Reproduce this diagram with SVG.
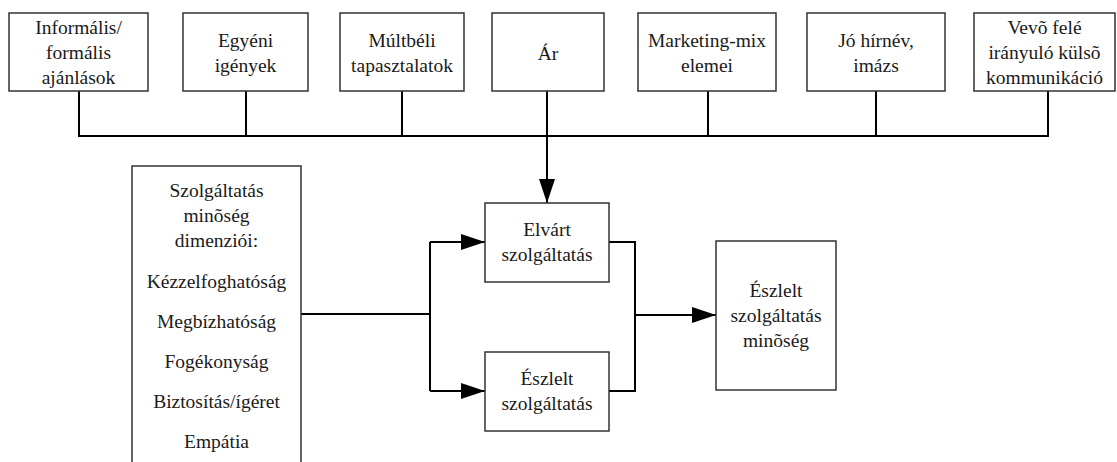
<svg xmlns="http://www.w3.org/2000/svg" width="1117" height="462" viewBox="0 0 1117 462">
<defs>
<style>
.box{fill:#fff;stroke:#333;stroke-width:1.5}
.t{font-family:"Liberation Serif","Times New Roman",serif;font-size:19.5px;fill:#1a1a1a;text-anchor:middle}
.c{fill:none;stroke:#000;stroke-width:2}
</style>
<marker id="ah" markerWidth="24" markerHeight="16" refX="24" refY="8" orient="auto" markerUnits="userSpaceOnUse">
<path d="M0,0 L24,8 L0,16 Z" fill="#000"/>
</marker>
</defs>
<rect width="1117" height="462" fill="#fff"/>
<g id="connectors">
<path class="c" d="M79,91 V136 H1048 V91"/>
<path class="c" d="M246,91 V136"/>
<path class="c" d="M402,91 V136"/>
<path class="c" d="M708,91 V136"/>
<path class="c" d="M876,91 V136"/>
<path class="c" d="M547,91 V136"/>
<path class="c" d="M547,136 V203" marker-end="url(#ah)"/>
<path class="c" d="M301,314 H430"/>
<path class="c" d="M430,242 V391"/>
<path class="c" d="M430,242 H485" marker-end="url(#ah)"/>
<path class="c" d="M430,391 H485" marker-end="url(#ah)"/>
<path class="c" d="M609,242 H635 V391 H609"/>
<path class="c" d="M635,315 H716" marker-end="url(#ah)"/>
</g>
<g id="n1"><rect class="box" x="9" y="13" width="139" height="78"/>
<text class="t" x="78.5" y="34">Informális/</text><text class="t" x="78.5" y="59">formális</text><text class="t" x="78.5" y="84">ajánlások</text></g>
<g id="n2"><rect class="box" x="183" y="13" width="125" height="78"/>
<text class="t" x="245.5" y="47">Egyéni</text><text class="t" x="245.5" y="72">igények</text></g>
<g id="n3"><rect class="box" x="340" y="13" width="124" height="78"/>
<text class="t" x="402" y="47">Múltbéli</text><text class="t" x="402" y="72">tapasztalatok</text></g>
<g id="n4"><rect class="box" x="492" y="13" width="112" height="78"/>
<text class="t" x="548" y="60">Ár</text></g>
<g id="n5"><rect class="box" x="638" y="13" width="138" height="78"/>
<text class="t" x="707" y="47">Marketing-mix</text><text class="t" x="707" y="72">elemei</text></g>
<g id="n6"><rect class="box" x="807" y="13" width="138" height="78"/>
<text class="t" x="876" y="47">Jó hírnév,</text><text class="t" x="876" y="72">imázs</text></g>
<g id="n7"><rect class="box" x="974" y="13" width="141" height="78"/>
<text class="t" x="1044.5" y="34">Vevõ felé</text><text class="t" x="1044.5" y="59">irányuló külsõ</text><text class="t" x="1044.5" y="84">kommunikáció</text></g>
<g id="dims"><rect class="box" x="132" y="166" width="169" height="310"/>
<text class="t" x="216.5" y="197">Szolgáltatás</text>
<text class="t" x="216.5" y="222">minõség</text>
<text class="t" x="216.5" y="247">dimenziói:</text>
<text class="t" x="216.5" y="288">Kézzelfoghatóság</text>
<text class="t" x="216.5" y="328">Megbízhatóság</text>
<text class="t" x="216.5" y="368">Fogékonyság</text>
<text class="t" x="216.5" y="408">Biztosítás/ígéret</text>
<text class="t" x="216.5" y="448">Empátia</text></g>
<g id="elvart"><rect class="box" x="485" y="203" width="124" height="79"/>
<text class="t" x="547" y="236">Elvárt</text><text class="t" x="547" y="261">szolgáltatás</text></g>
<g id="eszlelt"><rect class="box" x="485" y="352" width="124" height="79"/>
<text class="t" x="547" y="385">Észlelt</text><text class="t" x="547" y="410">szolgáltatás</text></g>
<g id="minoseg"><rect class="box" x="716" y="241" width="120" height="149"/>
<text class="t" x="776" y="297">Észlelt</text><text class="t" x="776" y="322">szolgáltatás</text><text class="t" x="776" y="347">minõség</text></g>
</svg>
